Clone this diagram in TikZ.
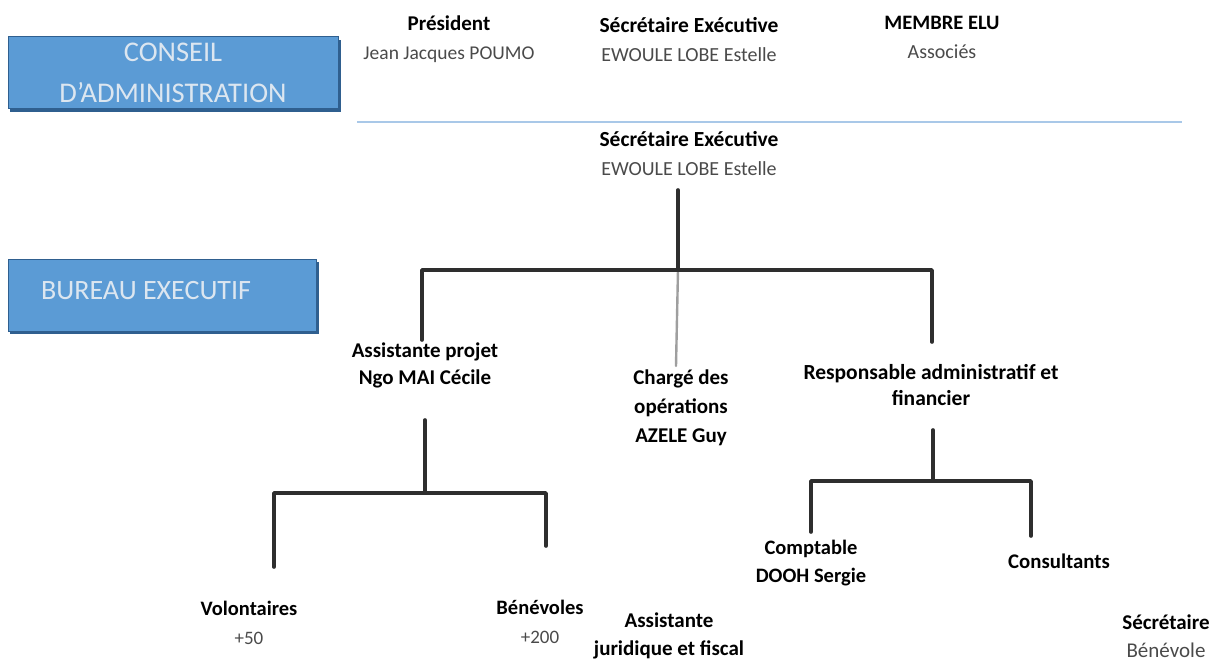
\documentclass[tikz,border=0pt]{standalone}
\usepackage{fontspec}
\setmainfont{Carlito}
\definecolor{boxblue}{HTML}{5B9BD5}
\definecolor{boxedge}{HTML}{2F5F8F}
\definecolor{boxtext}{HTML}{DCE6F0}
\definecolor{rule}{HTML}{A9C8E8}
\definecolor{namegray}{HTML}{4A4A4A}
\definecolor{linedark}{HTML}{2E2E2E}
\tikzset{
  lbl/.style={align=center, inner sep=0pt, font=\fontsize{20}{29}\selectfont},
  secbox/.style={fill=boxblue, draw=boxedge, line width=1pt},
  shadowbox/.style={fill=boxedge},
  conn/.style={draw=linedark, line width=3.6pt, line cap=round, line join=round},
  connlight/.style={draw=gray!75, line width=2.4pt, line cap=round}
}
\newcommand{\fs}[1]{\fontsize{#1}{29}\selectfont}
\newcommand{\nm}[2]{{\fs{#1}\color{namegray}#2}}
\newcommand{\tb}[2]{{\fs{#1}\bfseries #2}}
\begin{document}
\begin{tikzpicture}[x=1pt,y=-1pt]
\useasboundingbox (0,0) rectangle (1216,666);
% section boxes
\fill[shadowbox] (10,40) rectangle (341,112);
\path[secbox] (8,37) rectangle (338,109);
\node[inner sep=0pt, text=boxtext, align=center, font=\fontsize{28.5}{41}\selectfont] (ca) at (173,73) {CONSEIL\\D'ADMINISTRATION};
\fill[shadowbox] (10,262) rectangle (319,334);
\path[secbox] (8,259) rectangle (316,331);
\node[inner sep=0pt, text=boxtext, anchor=west, font=\fontsize{28}{30}\selectfont] (be) at (41,291) {BUREAU EXECUTIF};
% rule
\draw[rule, line width=2.2pt] (357,122) -- (1182,122);
% top row
\node[lbl] (pres) at (449,39.5) {\tb{21}{Président}\\\nm{19.5}{Jean Jacques POUMO}};
\node[lbl] (sec1) at (689,39.5) {\tb{21.5}{Sécrétaire Exécutive}\\\nm{20}{EWOULE LOBE Estelle}};
\node[lbl] (mem) at (942,37.5) {\tb{20.5}{MEMBRE ELU}\\\nm{20}{Associés}};
% executive
\node[lbl] (sec2) at (689,154) {\tb{21.5}{Sécrétaire Exécutive}\\\nm{20}{EWOULE LOBE Estelle}};
\node[lbl] (ap) at (425,365.5) {\tb{21}{Assistante projet}\\[-2pt]\tb{21}{Ngo MAI Cécile}};
\node[lbl] (co) at (681,408) {\tb{21}{Chargé des}\\\tb{21}{opérations}\\\tb{21}{AZELE Guy}};
\node[lbl] (raf) at (931,385) {\tb{21.5}{Responsable administratif et}\\[-3pt]\tb{21.5}{financier}};
\node[lbl] (vol) at (249,622.5) {\tb{20.5}{Volontaires}\\\nm{19}{+50}};
\node[lbl] (ben) at (540,621.5) {\tb{20.5}{Bénévoles}\\\nm{19}{+200}};
\node[lbl] (ajf) at (669,636) {\tb{21}{Assistante}\\[-1pt]\tb{21}{juridique et fiscal}};
\node[lbl] (cpt) at (811,563) {\tb{20.5}{Comptable}\\[-1pt]\tb{20.5}{DOOH Sergie}};
\node[lbl] (cons) at (1059,561) {\tb{20.8}{Consultants}};
\node[lbl] (secb) at (1166,636) {\tb{21}{Sécrétaire}\\[-1pt]\nm{21}{Bénévole}};
% junction coordinates
\coordinate (s2b) at (678,190);
\coordinate (jA) at (678,270);
\coordinate (jAL) at (422,270);
\coordinate (jAR) at (932,270);
\coordinate (apT) at (422,340);
\coordinate (coT) at (676,366);
\coordinate (rafT) at (932,342);
\coordinate (apB) at (425,420);
\coordinate (jB) at (425,493);
\coordinate (jBL) at (274,493);
\coordinate (jBR) at (546,493);
\coordinate (volT) at (274,567);
\coordinate (benT) at (546,546);
\coordinate (rafB) at (933,430);
\coordinate (jC) at (933,481);
\coordinate (jCL) at (811,481);
\coordinate (jCR) at (1031,481);
\coordinate (cptT) at (811,532);
\coordinate (consT) at (1031,536);
% connectors
\draw[connlight] (jA) -- (coT);
\draw[conn] (s2b) -- (jA);
\draw[conn] (apT) -- (jAL) -- (jAR) -- (rafT);
\draw[conn] (apB) -- (jB);
\draw[conn] (volT) -- (jBL) -- (jBR) -- (benT);
\draw[conn] (rafB) -- (jC);
\draw[conn] (cptT) -- (jCL) -- (jCR) -- (consT);
\end{tikzpicture}
\end{document}
